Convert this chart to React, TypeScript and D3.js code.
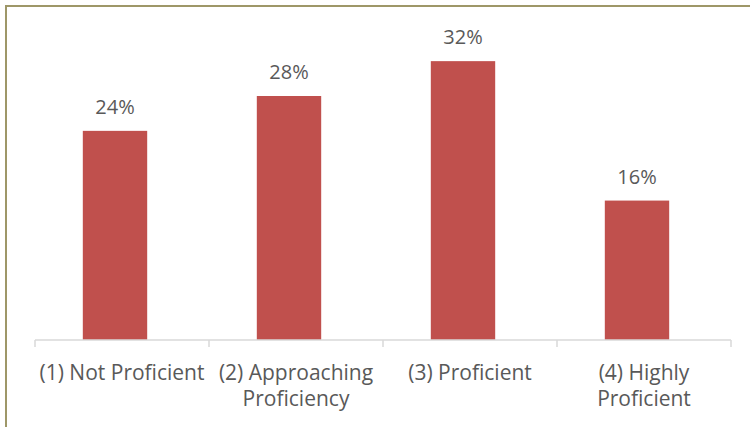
import { useEffect, useRef } from 'react';
import * as d3 from 'd3';

const categories = ['(1) Not Proficient', '(2) Approaching Proficiency', '(3) Proficient', '(4) Highly Proficient'];
const categoryLines = [['(1) Not Proficient'], ['(2) Approaching', 'Proficiency'], ['(3) Proficient'], ['(4) Highly', 'Proficient']];
const values = [24, 28, 32, 16];

export default function App() {
  const ref = useRef<SVGSVGElement>(null);

  useEffect(() => {
    if (!ref.current) return;
    const svg = d3.select(ref.current);
    svg.selectAll('*').remove();

    const font = "'Open Sans', sans-serif";
    const textColor = '#595959';

    // outer border (left and top visible)
    svg.append('rect')
      .attr('x', 6).attr('y', 6)
      .attr('width', 800).attr('height', 500)
      .attr('fill', 'none')
      .attr('stroke', '#9e9768')
      .attr('stroke-width', 2);

    const x = d3.scaleBand<string>().domain(categories).range([35, 731]);
    const bars = d3.scaleBand<string>().domain(categories).range([28, 724]).paddingInner(0.63).paddingOuter(0.315);
    const y = d3.scaleLinear().domain([0, 35]).range([340, 35]);

    // bars
    svg.append('g')
      .selectAll('rect')
      .data(values)
      .enter()
      .append('rect')
      .attr('x', (_, i) => bars(categories[i]) || 0)
      .attr('y', d => y(d))
      .attr('width', bars.bandwidth())
      .attr('height', d => y(0) - y(d))
      .attr('fill', '#c0504d');

    // value labels
    svg.append('g')
      .selectAll('text')
      .data(values)
      .enter()
      .append('text')
      .attr('x', (_, i) => (bars(categories[i]) || 0) + bars.bandwidth() / 2)
      .attr('y', d => y(d) - 17)
      .attr('text-anchor', 'middle')
      .style('font-family', font)
      .style('font-size', '20px')
      .attr('fill', textColor)
      .text(d => `${d}%`);

    // axis line + ticks
    const axis = svg.append('g');
    axis.append('line')
      .attr('x1', x.range()[0]).attr('x2', x.range()[1])
      .attr('y1', y(0)).attr('y2', y(0))
      .attr('stroke', '#d9d9d9').attr('stroke-width', 1.5);
    const tickX = categories.map(c => x(c) || 0).concat([x.range()[1]]);
    axis.selectAll('.tick')
      .data(tickX)
      .enter()
      .append('line')
      .attr('x1', d => d).attr('x2', d => d)
      .attr('y1', y(0)).attr('y2', y(0) + 7)
      .attr('stroke', '#d9d9d9').attr('stroke-width', 1.5);

    // category labels
    categoryLines.forEach((lines, i) => {
      const cx = (x(categories[i]) || 0) + x.bandwidth() / 2;
      const t = svg.append('text')
        .attr('x', cx)
        .attr('y', 380)
        .attr('text-anchor', 'middle')
        .style('font-family', font)
        .style('font-size', '21px')
        .attr('fill', textColor);
      lines.forEach((l, j) => {
        t.append('tspan')
          .attr('x', cx)
          .attr('dy', j === 0 ? 0 : 26)
          .text(l);
      });
    });
  }, []);

  return (
    <svg
      ref={ref}
      width={750}
      height={427}
      style={{ position: 'fixed', top: 0, left: 0, background: '#fff', display: 'block' }}
    />
  );
}
